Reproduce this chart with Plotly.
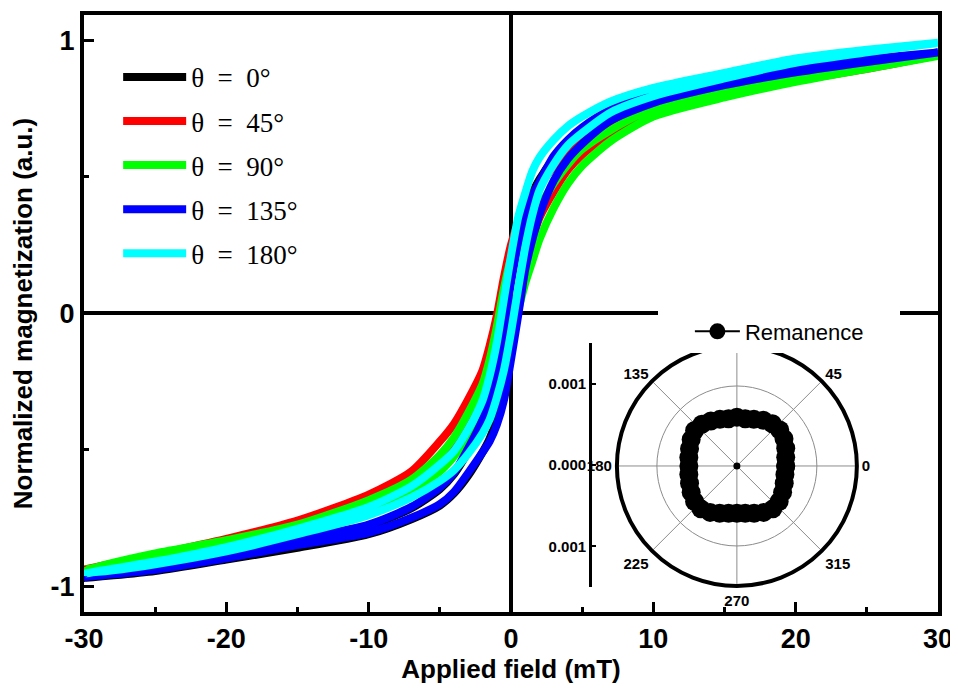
import plotly.graph_objects as go

# ---------------- data ----------------
field = [-30, -25, -20, -15, -10, -7, -5, -4, -3, -2, -1.5, -1, -0.5, 0,
         0.5, 1, 1.5, 2, 3, 4, 5, 7, 10, 15, 20, 25, 30]

# loop half-width (branch separation / 2)
half_width = [0, 0.005, 0.008, 0.01, 0.015, 0.02, 0.03, 0.035, 0.045, 0.06, 0.08, 0.1, 0.13, 0.14,
              0.13, 0.1, 0.08, 0.06, 0.045, 0.035, 0.03, 0.02, 0.015, 0.01, 0.008, 0.005, 0]

m_0 = [-0.97, -0.94, -0.895, -0.85, -0.795, -0.735, -0.675, -0.625, -0.55, -0.45, -0.38, -0.29, -0.16, 0.0,
       0.15, 0.27, 0.36, 0.43, 0.52, 0.585, 0.635, 0.705, 0.77, 0.83, 0.875, 0.915, 0.95]
m_45 = [-0.94, -0.89, -0.835, -0.77, -0.68, -0.6, -0.5, -0.44, -0.36, -0.27, -0.2, -0.11, 0.0, 0.11,
        0.2, 0.28, 0.35, 0.41, 0.49, 0.56, 0.61, 0.68, 0.755, 0.815, 0.86, 0.9, 0.945]
m_90 = [-0.94, -0.885, -0.84, -0.785, -0.70, -0.63, -0.55, -0.49, -0.41, -0.32, -0.25, -0.15, -0.04, 0.06,
        0.14, 0.21, 0.27, 0.33, 0.43, 0.51, 0.57, 0.65, 0.735, 0.80, 0.855, 0.9, 0.942]
m_135 = [-0.967, -0.935, -0.89, -0.84, -0.79, -0.73, -0.67, -0.62, -0.54, -0.45, -0.39, -0.31, -0.19, -0.03,
         0.12, 0.26, 0.35, 0.42, 0.53, 0.60, 0.65, 0.725, 0.785, 0.845, 0.89, 0.925, 0.955]
m_180 = [-0.955, -0.915, -0.865, -0.80, -0.725, -0.655, -0.585, -0.54, -0.47, -0.38, -0.31, -0.21, -0.08, 0.07,
         0.22, 0.34, 0.44, 0.51, 0.59, 0.65, 0.69, 0.755, 0.81, 0.87, 0.925, 0.96, 0.99]

series_names = ["θ\u2002=\u20020°", "θ\u2002=\u200245°", "θ\u2002=\u200290°",
                "θ\u2002=\u2002135°", "θ\u2002=\u2002180°"]
series_values = [m_0, m_45, m_90, m_135, m_180]
series_colors = ["#000000", "#ff0000", "#00ff00", "#0000ff", "#00ffff"]

x_ticks = [-30, -20, -10, 0, 10, 20, 30]
x_tick_labels = ["-30", "-20", "-10", "0", "10", "20", "30"]
y_ticks = [-1, 0, 1]
y_tick_labels = ["-1", "0", "1"]

# inset: remanence vs angle
rem_angle = [0, 10, 20, 30, 40, 50, 60, 70, 80, 90, 100, 110, 120, 130, 140, 150, 160, 170,
             180, 190, 200, 210, 220, 230, 240, 250, 260, 270, 280, 290, 300, 310, 320, 330, 340, 350, 360]
rem_value = [0.00061, 0.00062, 0.00065, 0.00068, 0.00070, 0.00069, 0.00066, 0.00062, 0.00060, 0.00061,
             0.00060, 0.00062, 0.00065, 0.00068, 0.00069, 0.00066, 0.00063, 0.00061, 0.00060, 0.00061,
             0.00063, 0.00066, 0.00069, 0.00070, 0.00067, 0.00063, 0.00060, 0.00059, 0.00060, 0.00063,
             0.00067, 0.00070, 0.00069, 0.00066, 0.00063, 0.00061, 0.00061]
angle_ticks = [0, 45, 90, 135, 180, 225, 270, 315]
angle_labels = ["0", "45", "90", "135", "180", "225", "270", "315"]
inset_ticks = [-0.001, 0, 0.001]
inset_labels = ["0.001", "0.000", "0.001"]

SANS = "Liberation Sans, Arial, sans-serif"
SERIF = "Liberation Serif, Times New Roman, serif"

fig = go.Figure()

for name, vals, col in zip(series_names, series_values, series_colors):
    lower = [v - w for v, w in zip(vals, half_width)]
    upper = [v + w for v, w in zip(vals, half_width)]
    xs = field + field[::-1]
    ys = lower + upper[::-1]
    fig.add_trace(go.Scatter(x=xs, y=ys, mode="lines", name=name, legendgroup=name,
                             line=dict(color=col, width=8, shape="spline", smoothing=0.7),
                             hoverinfo="skip"))

# inset side axis carrier
fig.add_trace(go.Scatter(x=[None], y=[None], xaxis="x2", yaxis="y2", showlegend=False,
                         hoverinfo="skip"))

# polar data
fig.add_trace(go.Scatterpolar(r=rem_value, theta=rem_angle, subplot="polar2", mode="lines+markers",
                              name="Remanence", legend="legend2",
                              line=dict(color="black", width=2),
                              marker=dict(color="black", size=19)))
fig.add_trace(go.Scatterpolar(r=[0], theta=[0], subplot="polar2", mode="markers", showlegend=False,
                              marker=dict(color="black", size=7), hoverinfo="skip"))

axis_common = dict(showgrid=False, showline=True, linecolor="black", linewidth=4, mirror=True,
                   ticks="inside", ticklen=10, tickwidth=3, tickcolor="black", automargin=False,
                   zeroline=True, zerolinecolor="black", zerolinewidth=4,
                   ticklabeloverflow="allow",
                   tickfont=dict(family=SANS, size=27, color="black", weight="bold"))

# the page body adds an 8px margin, so the figure is sized/offset to compensate
fig.update_layout(
    width=950, height=680,
    margin=dict(l=76, r=20, t=7, b=76),
    paper_bgcolor="white", plot_bgcolor="white",
    xaxis=dict(range=[-30, 30], tickvals=x_ticks, ticktext=x_tick_labels, **axis_common,
               minor=dict(dtick=5, ticks="inside", ticklen=5, tickwidth=3, tickcolor="black"),
               title=dict(text="Applied field (mT)", standoff=2,
                          font=dict(family=SANS, size=26, color="black", weight="bold"))),
    yaxis=dict(range=[-1.095, 1.092], tickvals=y_ticks, ticktext=y_tick_labels, **axis_common,
               minor=dict(dtick=0.5, ticks="inside", ticklen=5, tickwidth=3, tickcolor="black"),
               title=dict(text="Normalized magnetization (a.u.)", standoff=12,
                          font=dict(family=SANS, size=26, color="black", weight="bold"))),
    xaxis2=dict(domain=[0.595, 0.6], anchor="y2", visible=False, range=[0, 1]),
    yaxis2=dict(domain=[0.042, 0.4506], anchor="x2", range=[-0.0015, 0.0015],
                showline=True, linecolor="black", linewidth=3, showgrid=False, zeroline=False,
                ticks="inside", ticklen=4, tickwidth=2, tickcolor="black",
                tickvals=inset_ticks, ticktext=inset_labels,
                tickfont=dict(family=SANS, size=15, color="black", weight="bold")),
    polar=dict(domain=dict(x=[0.624, 0.905], y=[0.0436, 0.4456]), bgcolor="white",
               radialaxis=dict(range=[0, 0.0015], showticklabels=False, ticks="", showline=False,
                               tickvals=[0.0005], gridcolor="#b8b8b8", griddash="dot", gridwidth=1),
               angularaxis=dict(dtick=22.5, showticklabels=False, ticks="", showline=False,
                                gridcolor="#c8c8c8", griddash="dot", gridwidth=1)),
    polar2=dict(domain=dict(x=[0.624, 0.905], y=[0.0436, 0.4456]), bgcolor="rgba(0,0,0,0)",
                radialaxis=dict(range=[0, 0.0015], showticklabels=False, ticks="", showline=False,
                                tickvals=[0.001], gridcolor="#8c8c8c", gridwidth=1),
                angularaxis=dict(tickvals=angle_ticks, ticktext=angle_labels, gridcolor="#8c8c8c",
                                 gridwidth=1, showline=True, linecolor="black", linewidth=4,
                                 ticks="", tickfont=dict(family=SANS, size=15, color="black",
                                                         weight="bold"))),
    legend=dict(x=0.04, y=0.9366, xanchor="left", yanchor="top", bgcolor="rgba(0,0,0,0)",
                font=dict(family=SERIF, size=27, color="black"), itemwidth=63,
                tracegroupgap=6, traceorder="grouped"),
    legend2=dict(x=0.672, y=0.505, xanchor="left", yanchor="top", bgcolor="white",
                 orientation="h", entrywidth=150, itemwidth=45, indentation=32,
                 font=dict(family=SANS, size=22, color="black")),
)

fig.write_html("out.html")
